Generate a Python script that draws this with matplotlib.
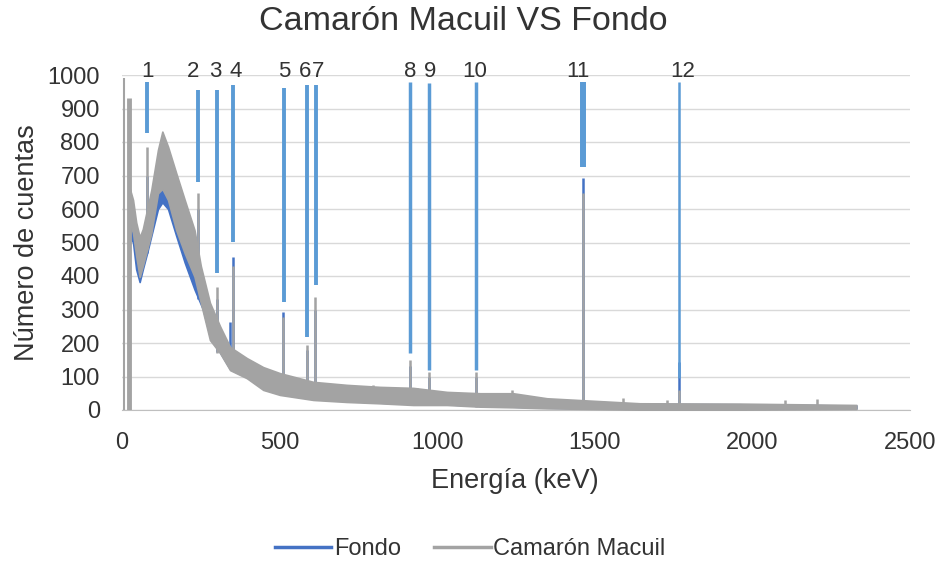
import numpy as np
import matplotlib
matplotlib.use("Agg")
import matplotlib.pyplot as plt
from matplotlib.lines import Line2D

plt.rcParams['font.family'] = ['Liberation Sans', 'DejaVu Sans']

# --- data ---
# continuum band of Camarón Macuil (energy, lower edge, upper edge)
macuil_energy = [25, 35, 45, 56, 66, 80, 93, 114, 128, 146, 172, 199, 230, 250, 279, 311,
                 343, 396, 448, 501, 607, 713, 818, 924, 1031, 1136, 1241, 1348, 1643, 1960, 2330]
macuil_high = [660, 627, 560, 516, 540, 600, 657, 776, 831, 786, 707, 627, 537, 430, 320, 250,
               188, 155, 128, 110, 84, 75, 69, 66, 54, 50, 50, 35, 20, 19, 15]
macuil_low = [560, 528, 460, 397, 430, 480, 528, 647, 660, 627, 537, 468, 398, 320, 209, 170,
              119, 95, 60, 45, 30, 24, 20, 15, 15, 10, 8, 5, 1, 1, 3]
# narrow peaks of Camarón Macuil (energy, foot, top)
macuil_peak_e = [5, 22, 80, 242, 300, 351, 511, 586, 612, 795, 914, 936, 974, 1122, 1238,
                 1462, 1590, 1729, 1766, 2103, 2205]
macuil_peak_base = [0, 0, 480, 380, 170, 115, 45, 32, 30, 20, 15, 15, 15, 10, 8,
                    5, 1, 1, 1, 1, 1]
macuil_peak_h = [990, 930, 786, 647, 368, 430, 278, 194, 338, 75, 149, 65, 114, 112, 60,
                 647, 35, 30, 60, 30, 33]

# continuum band of Fondo
fondo_energy = [25, 35, 45, 56, 66, 80, 93, 114, 128, 146, 172, 199, 230, 257, 279, 311,
                343, 396, 448, 501, 607, 713, 818, 924, 1031, 1136, 1241, 1348, 1643, 1960, 2330]
fondo_high = [600, 560, 480, 430, 460, 520, 600, 680, 697, 650, 590, 510, 420, 350, 290, 230,
              175, 145, 120, 100, 78, 70, 64, 60, 50, 46, 45, 32, 18, 17, 13]
fondo_low = [520, 500, 420, 382, 420, 470, 520, 600, 620, 600, 520, 440, 360, 300, 220, 172,
             122, 98, 64, 48, 33, 27, 22, 18, 17, 12, 10, 7, 3, 3, 5]
fondo_peak_e = [80, 242, 300, 343, 351, 511, 586, 612, 914, 974, 1122, 1462, 1766]
fondo_peak_base = [470, 330, 172, 125, 120, 48, 33, 30, 18, 18, 12, 7, 3]
fondo_peak_h = [700, 600, 330, 263, 458, 293, 180, 300, 130, 100, 100, 692, 144]

# identified lines
line_energy = [80, 242, 300, 352, 514, 587, 614, 914, 974, 1124, 1464, 1768]
line_top = [980, 955, 955, 970, 962, 970, 970, 978, 975, 978, 978, 978]
line_bottom = [827, 682, 409, 501, 322, 218, 373, 170, 119, 119, 725, 95]
line_width = [2.8, 2.8, 2.8, 2.8, 2.8, 2.8, 2.8, 2.5, 2.5, 2.5, 4.3, 1.8]
label_energy = [80, 225, 295, 361, 514, 581, 622, 914, 979, 1120, 1447, 1780]
label_text = ['1', '2', '3', '4', '5', '6', '7', '8', '9', '10', '11', '12']

blue = '#4472C4'
gray = '#A3A3A3'
light_blue = '#5B9BD5'
txt = '#333333'

fig = plt.figure(figsize=(9.4, 5.65), dpi=100)
ax = fig.add_axes([122/940, 1-410/565, 788/940, 335/565])

# Fondo first, Camarón Macuil on top
ax.fill_between(fondo_energy, fondo_low, fondo_high, color=blue, lw=1.2, edgecolor=blue, zorder=2)
ax.vlines(fondo_peak_e, fondo_peak_base, fondo_peak_h, color=blue, lw=1.8, zorder=2)
ax.fill_between(macuil_energy, macuil_low, macuil_high, color=gray, lw=1.2, edgecolor=gray, zorder=3)
ax.vlines(macuil_peak_e, macuil_peak_base, macuil_peak_h, color=gray, lw=[1.5, 3.5] + [1.8] * 19,
          zorder=3)

# marker lines with numbers
ax.vlines(line_energy, line_bottom, line_top, color=light_blue, lw=line_width, zorder=4)
for e, t in zip(label_energy, label_text):
    ax.text(e, 1010, t, ha='center', va='center', fontsize=16, color=txt, clip_on=False, zorder=5)

ax.set_xlim(0, 2500)
ax.set_ylim(0, 1000)
ax.set_xticks(np.arange(0, 2501, 500))
ax.set_yticks(np.arange(0, 1001, 100))
ax.grid(axis='y', color='#D9D9D9', lw=1, zorder=0)
ax.set_axisbelow(True)
for s in ['top', 'right', 'left']:
    ax.spines[s].set_visible(False)
ax.spines['bottom'].set_color('#BFBFBF')
ax.tick_params(length=0, labelsize=17, labelcolor=txt)
ax.tick_params(axis='y', pad=16)
ax.tick_params(axis='x', pad=16)

fig.text(463/940, 1-22/565, 'Camarón Macuil VS Fondo', ha='center', va='center', fontsize=24.5, color=txt)
fig.text(515/940, 1-481/565, 'Energía (keV)', ha='center', va='center', fontsize=19.5, color=txt)
fig.text(27/940, 1-243/565, 'Número de cuentas', ha='center', va='center', rotation=90,
         fontsize=19.5, color=txt)

handles = [Line2D([], [], color=blue, lw=2.5), Line2D([], [], color=gray, lw=2.5)]
fig.legend(handles, ['Fondo', 'Camarón Macuil'], loc='center', bbox_to_anchor=(470/940, 1-549/565),
           ncol=2, frameon=False, fontsize=17, handlelength=2.4, handletextpad=0.1,
           columnspacing=1.4, labelcolor=txt)

fig.savefig('out.png', dpi=100)
